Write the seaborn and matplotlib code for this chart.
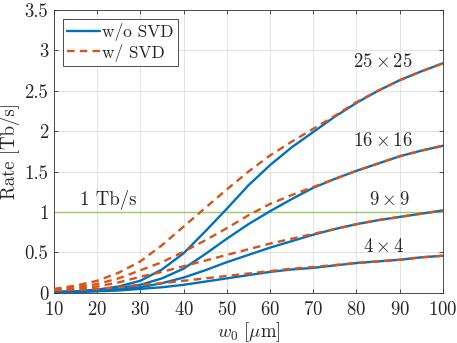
import numpy as np
import pandas as pd
import seaborn as sns
import matplotlib.pyplot as plt
from matplotlib.lines import Line2D
from matplotlib.ticker import FuncFormatter

# waist radius w0 [um]
w0 = [10, 15, 20, 25, 30, 35, 40, 45, 50, 55, 60, 65, 70, 75, 80, 85, 90, 95, 100]

# rate [Tb/s]
no_svd_25 = [0.01, 0.02, 0.04, 0.08, 0.15, 0.29, 0.49, 0.76, 1.04, 1.33, 1.58, 1.80, 1.99, 2.18, 2.35, 2.50, 2.63, 2.74, 2.84]
svd_25 = [0.05, 0.09, 0.15, 0.25, 0.39, 0.59, 0.82, 1.05, 1.28, 1.50, 1.70, 1.87, 2.03, 2.19, 2.36, 2.50, 2.63, 2.74, 2.84]
no_svd_16 = [0.01, 0.02, 0.03, 0.06, 0.10, 0.18, 0.30, 0.48, 0.67, 0.85, 1.01, 1.16, 1.30, 1.41, 1.51, 1.60, 1.69, 1.76, 1.82]
svd_16 = [0.04, 0.07, 0.11, 0.18, 0.28, 0.38, 0.51, 0.65, 0.80, 0.96, 1.10, 1.21, 1.31, 1.41, 1.51, 1.60, 1.69, 1.76, 1.82]
no_svd_9 = [0.01, 0.015, 0.025, 0.04, 0.07, 0.12, 0.19, 0.28, 0.38, 0.47, 0.56, 0.64, 0.72, 0.79, 0.85, 0.90, 0.94, 0.98, 1.02]
svd_9 = [0.035, 0.05, 0.08, 0.13, 0.20, 0.26, 0.33, 0.40, 0.47, 0.54, 0.61, 0.67, 0.73, 0.79, 0.85, 0.90, 0.94, 0.98, 1.02]
no_svd_4 = [0.005, 0.01, 0.02, 0.03, 0.05, 0.07, 0.10, 0.14, 0.18, 0.22, 0.26, 0.29, 0.31, 0.34, 0.37, 0.39, 0.41, 0.44, 0.46]
svd_4 = [0.03, 0.04, 0.05, 0.07, 0.10, 0.12, 0.15, 0.18, 0.21, 0.24, 0.27, 0.30, 0.32, 0.345, 0.37, 0.39, 0.41, 0.44, 0.46]

sizes = ['25 x 25', '16 x 16', '9 x 9', '4 x 4']
size_labels = [r'$25\times25$', r'$16\times16$', r'$9\times9$', r'$4\times4$']
label_x = [86.2, 86.2, 87.7, 86.2]
label_y = [2.86, 1.88, 1.15, 0.57]
methods = ['w/o SVD', 'w/ SVD']
target = 1.0

rows = []
for s, a, b in zip(sizes, [no_svd_25, no_svd_16, no_svd_9, no_svd_4],
                   [svd_25, svd_16, svd_9, svd_4]):
    for x, ya, yb in zip(w0, a, b):
        rows.append((x, ya, s, 'w/o SVD'))
        rows.append((x, yb, s, 'w/ SVD'))
df = pd.DataFrame(rows, columns=['w0', 'rate', 'size', 'method'])

sns.set_theme(style='whitegrid', rc={
    'grid.color': '#e3e3e3', 'grid.linewidth': 0.7,
    'axes.edgecolor': '#303030', 'axes.linewidth': 0.6,
    'xtick.direction': 'in', 'ytick.direction': 'in',
    'xtick.top': True, 'ytick.right': True,
    'xtick.bottom': True, 'ytick.left': True,
    'xtick.major.size': 3, 'ytick.major.size': 3,
    'xtick.major.width': 0.6, 'ytick.major.width': 0.6,
    'xtick.color': '#303030', 'ytick.color': '#303030',
})
plt.rcParams['font.family'] = ['cmr10', 'DejaVu Serif']
plt.rcParams['mathtext.fontset'] = 'cm'
plt.rcParams['axes.formatter.use_mathtext'] = True

blue = '#0072BD'
orange = '#D95319'
fs = 13.5

fig = plt.figure(figsize=(4.57, 3.43), dpi=100)
ax = fig.add_axes([0.118, 0.146, 0.851, 0.825])

ax.axhline(target, color='#9acb6a', lw=1.0, zorder=1)
sns.lineplot(data=df, x='w0', y='rate', hue='method', style='method',
             units='size', estimator=None, hue_order=methods, style_order=methods,
             palette={'w/o SVD': blue, 'w/ SVD': orange},
             dashes={'w/o SVD': '', 'w/ SVD': (3.2, 2.2)},
             lw=1.7, legend=False, ax=ax, zorder=3)

for lab, x, y in zip(size_labels, label_x, label_y):
    ax.text(x, y, lab, ha='center', va='center', fontsize=fs)
ax.text(22.5, 1.15, '1 Tb/s', ha='center', va='center', fontsize=fs)

ax.set_xlim(10, 100)
ax.set_ylim(0, 3.5)
ax.set_xticks(np.arange(10, 101, 10))
ax.set_yticks(np.arange(0, 3.51, 0.5))
ax.yaxis.set_major_formatter(FuncFormatter(lambda v, p: '%g' % v))
ax.tick_params(labelsize=fs, colors='#303030', labelcolor='#262626')
ax.tick_params(axis='x', pad=6)
ax.tick_params(axis='y', pad=4)
ax.set_xlabel(r'$w_0\ [\mu\mathrm{m}]$', fontsize=fs, labelpad=1)
ax.set_ylabel('Rate [Tb/s]', fontsize=fs, labelpad=3)
for sp in ax.spines.values():
    sp.set_visible(True)

handles = [Line2D([], [], color=blue, lw=1.7),
           Line2D([], [], color=orange, lw=1.7, dashes=(3.2, 2.2))]
leg = ax.legend(handles, methods, loc='upper left', fontsize=12.5, frameon=True,
                fancybox=False, framealpha=1, edgecolor='#303030',
                handlelength=1.9, handletextpad=0.12, borderpad=0.25,
                labelspacing=0.15, borderaxespad=0.5)
leg.get_frame().set_linewidth(0.6)

fig.savefig('out.png', dpi=100)
